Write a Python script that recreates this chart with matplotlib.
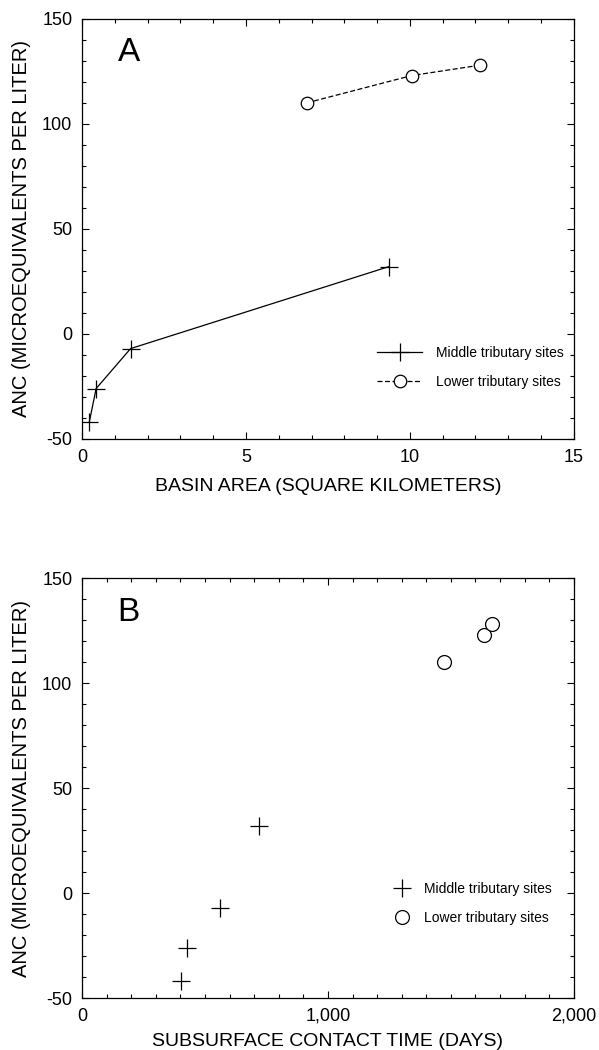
import matplotlib
matplotlib.use('Agg')
import matplotlib.pyplot as plt
from matplotlib.ticker import MultipleLocator, FuncFormatter

plt.rcParams['font.family'] = ['Liberation Sans', 'DejaVu Sans']
plt.rcParams['axes.unicode_minus'] = False

# Panel A: basin area (km2) vs ANC
area_middle = [0.22, 0.43, 1.48, 9.35]
anc_middle = [-42, -26, -7, 32]
area_lower = [6.85, 10.05, 12.15]
anc_lower = [110, 123, 128]

# Panel B: subsurface contact time (days) vs ANC
days_middle = [402, 426, 563, 720]
days_lower = [1472, 1636, 1667]

ylabel = 'ANC (MICROEQUIVALENTS PER LITER)'

fig = plt.figure(figsize=(5.99, 10.5), dpi=100)
axA = fig.add_axes([0.137, 0.582, 0.821, 0.40])
axB = fig.add_axes([0.137, 0.0495, 0.821, 0.40])


def style_axis(ax):
    ax.set_ylim(-50, 150)
    ax.yaxis.set_major_locator(MultipleLocator(50))
    ax.yaxis.set_minor_locator(MultipleLocator(10))
    ax.tick_params(which='both', direction='in', top=True, right=True,
                   labelsize=13, width=0.8)
    ax.tick_params(which='major', length=5, pad=7)
    ax.tick_params(which='minor', length=3)
    for s in ax.spines.values():
        s.set_linewidth(0.9)
    ax.set_ylabel(ylabel, fontsize=14.5, labelpad=8)


# ---- A ----
axA.plot(area_middle, anc_middle, color='black', lw=0.9, marker='+',
         ms=13, mew=0.9, label='Middle tributary sites')
axA.plot(area_lower, anc_lower, color='black', lw=0.9, ls=(0, (4, 2)),
         marker='o', ms=9, mfc='white', mew=0.9, label='Lower tributary sites')
axA.set_xlim(0, 15)
axA.xaxis.set_major_locator(MultipleLocator(5))
axA.xaxis.set_minor_locator(MultipleLocator(1))
style_axis(axA)
axA.set_xlabel('BASIN AREA (SQUARE KILOMETERS)', fontsize=14, labelpad=9)
axA.text(0.095, 0.92, 'A', transform=axA.transAxes, fontsize=24,
         ha='center', va='center')
axA.legend(loc='center left', bbox_to_anchor=(0.575, 0.17), frameon=False,
           fontsize=10, handlelength=3.2, handletextpad=1.0,
           labelspacing=1.1)

# ---- B ----
axB.plot(days_middle, anc_middle, ls='none', color='black', marker='+',
         ms=13, mew=0.9, label='Middle tributary sites')
axB.plot(days_lower, anc_lower, ls='none', color='black', marker='o',
         ms=10, mfc='white', mew=0.9, label='Lower tributary sites')
axB.set_xlim(0, 2000)
axB.xaxis.set_major_locator(MultipleLocator(1000))
axB.xaxis.set_minor_locator(MultipleLocator(100))
axB.xaxis.set_major_formatter(FuncFormatter(lambda v, p: f'{int(v):,}'))
style_axis(axB)
axB.set_xlabel('SUBSURFACE CONTACT TIME (DAYS)', fontsize=14, labelpad=6)
axB.text(0.095, 0.917, 'B', transform=axB.transAxes, fontsize=24,
         ha='center', va='center')
axB.legend(loc='center left', bbox_to_anchor=(0.61, 0.225), frameon=False,
           fontsize=10, handlelength=1.1, handletextpad=1.0,
           labelspacing=1.1)

fig.savefig('out.png', dpi=100)
